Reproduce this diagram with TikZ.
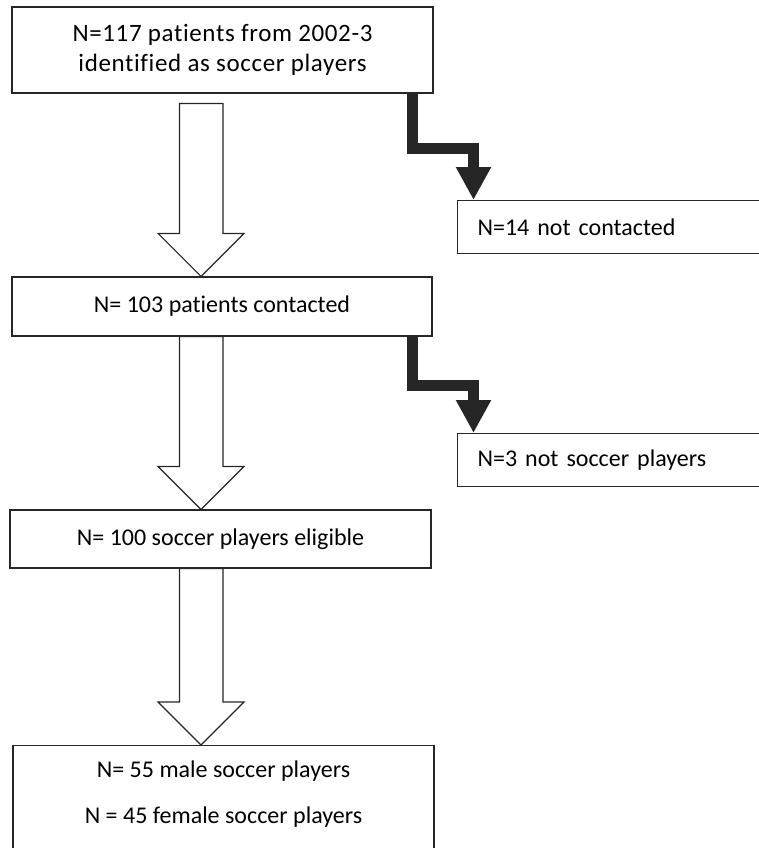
\documentclass[tikz,border=0pt]{standalone}
\usepackage{fontspec}
\setmainfont{Carlito}[Ligatures=CommonOff]
\usetikzlibrary{arrows.meta,calc,backgrounds}
\tikzset{
  box/.style={draw=black!85, line width=1.2pt, rectangle, inner sep=0pt,
    align=center, font=\fontsize{24}{30}\selectfont},
  sidebox/.style={box, anchor=north west, text width=330pt, inner xsep=20pt,
    align=left, minimum height=53pt},
  hollow/.style={draw=black!85, line width=1.2pt, fill=white, line join=miter},
  elbow/.style={draw=black!85, line width=10.5pt, line join=miter,
    -{Triangle[width=33pt,length=33pt]}},
}
\begin{document}
\begin{tikzpicture}[x=1pt,y=-1pt]
\useasboundingbox (0,0) rectangle (758,848);

\node[box, minimum width=421pt, minimum height=86pt,
  font=\fontsize{25}{30}\selectfont\addfontfeatures{LetterSpace=2.5}] (top) at (222.5,50)
{N=117 patients from 2002-3\\identified as soccer players};
\node[box, minimum width=420pt, minimum height=59pt] (contacted) at (222,306.5)
{N= 103 patients contacted};
\node[box, minimum width=421pt, minimum height=58pt] (eligible) at (220.5,539)
{N= 100 soccer players eligible};
\node[box, minimum width=421pt, minimum height=140pt, anchor=north] (sexes) at (223.5,745) {};
\node[font=\fontsize{24}{30}\selectfont, align=center, anchor=north] (sexestext)
at ([yshift=-12pt]sexes.north)
{N= 55 male soccer players\\[16pt]N = 45 female soccer players};

\node[sidebox] (notcontacted) at (457,200) {N=14 not contacted};
\node[sidebox] (notsoccer) at (457,433) {N=3 not soccer players};

% hollow arrows down the main column
\begin{pgfonlayer}{background}
\draw[hollow]
([xshift=-21pt]contacted.north) -- ++(-43,-43) -- ++(21.5,0)
|- ([xshift=-21pt,yshift=-10pt]top.south) -- ++(21.5,0)
|- ($([xshift=-21pt]contacted.north)+(43,-43)$) -- cycle;
\draw[hollow]
([xshift=-19.5pt]eligible.north) -- ++(-43,-43) -- ++(21.5,0)
|- ([xshift=-20.5pt]contacted.south) -- ++(21.5,0)
|- ($([xshift=-19.5pt]eligible.north)+(43,-43)$) -- cycle;
\draw[hollow]
([xshift=-22.5pt]sexes.north) -- ++(-43,-43) -- ++(21.5,0)
|- ([xshift=-19pt]eligible.south) -- ++(21.5,0)
|- ($([xshift=-22.5pt]sexes.north)+(43,-43)$) -- cycle;
\end{pgfonlayer}

% dark elbow arrows to the side
\draw[elbow]
([xshift=-21pt]top.south east) -- ++(0,55) -| ([xshift=16.5pt]notcontacted.north west);
\draw[elbow]
([xshift=-20pt]contacted.south east) -- ++(0,49) -| ([xshift=16.5pt]notsoccer.north west);

\end{tikzpicture}
\end{document}
